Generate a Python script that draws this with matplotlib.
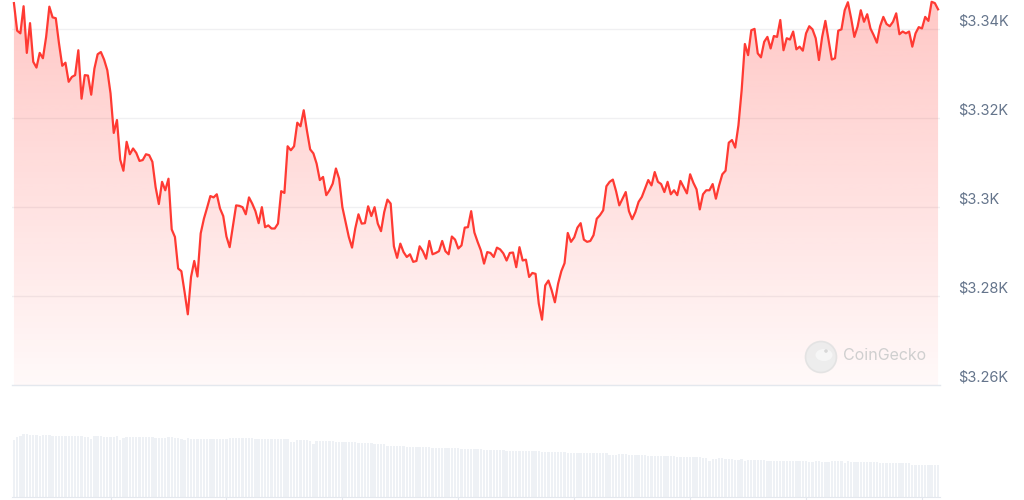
import numpy as np
import matplotlib
matplotlib.use("Agg")
import matplotlib.pyplot as plt
from matplotlib.patches import Circle, Ellipse

plt.rcParams['font.family'] = ['Inter', 'DejaVu Sans']

# price every 5 minutes over 24h (288 points)
prices = [
    3345.9, 3339.7, 3339.1, 3345.2, 3334.7, 3341.4, 3332.7, 3331.4, 3334.7, 3333.5, 3338.3, 3345.1,
    3342.7, 3342.5, 3336.8, 3331.8, 3332.5, 3328.2, 3329.3, 3329.7, 3335.3, 3324.4, 3329.7, 3329.6,
    3325.3, 3331.2, 3334.4, 3334.9, 3333.2, 3330.8, 3325.6, 3316.7, 3319.6, 3310.7, 3308.2, 3314.7,
    3311.9, 3313.2, 3312.2, 3310.4, 3310.6, 3311.9, 3311.7, 3310.2, 3304.5, 3300.7, 3305.7, 3303.8,
    3306.4, 3295.0, 3293.3, 3286.2, 3285.6, 3280.9, 3275.9, 3284.3, 3287.9, 3284.4, 3294.1, 3297.4,
    3299.9, 3302.5, 3302.2, 3302.9, 3299.7, 3298.0, 3293.4, 3291.0, 3295.7, 3300.4, 3300.3, 3300.0,
    3298.4, 3302.2, 3300.8, 3299.1, 3296.4, 3300.0, 3295.5, 3295.9, 3295.2, 3295.2, 3296.3, 3303.6,
    3303.2, 3313.7, 3312.8, 3313.7, 3319.0, 3318.2, 3321.8, 3317.2, 3313.0, 3312.1, 3309.8, 3306.1,
    3306.8, 3302.7, 3303.8, 3305.3, 3308.7, 3306.4, 3300.0, 3296.7, 3293.3, 3290.9, 3295.2, 3298.4,
    3296.3, 3296.4, 3300.2, 3298.0, 3300.0, 3296.3, 3294.6, 3298.9, 3301.7, 3300.8, 3291.2, 3288.6,
    3291.8, 3289.9, 3288.8, 3289.4, 3287.7, 3287.9, 3291.2, 3290.1, 3288.4, 3292.4, 3289.4, 3289.7,
    3290.1, 3292.4, 3290.1, 3289.4, 3293.4, 3292.7, 3290.7, 3291.4, 3295.4, 3295.5, 3299.1, 3294.3,
    3292.2, 3290.3, 3287.3, 3289.9, 3289.7, 3288.8, 3290.9, 3290.5, 3289.6, 3288.0, 3289.7, 3289.8,
    3286.5, 3291.0, 3288.0, 3288.2, 3284.3, 3285.2, 3285.0, 3278.3, 3274.7, 3282.4, 3283.5, 3281.3,
    3278.6, 3282.8, 3285.6, 3287.4, 3294.2, 3292.2, 3293.2, 3295.4, 3296.4, 3292.7, 3292.2, 3292.4,
    3293.7, 3297.4, 3298.2, 3299.3, 3304.7, 3305.7, 3306.2, 3303.6, 3300.4, 3301.9, 3303.4, 3299.1,
    3297.3, 3298.9, 3301.2, 3302.3, 3304.2, 3306.1, 3304.9, 3307.9, 3305.7, 3305.2, 3303.4, 3305.7,
    3302.9, 3303.8, 3302.7, 3305.9, 3304.5, 3303.1, 3307.4, 3305.5, 3304.0, 3299.5, 3302.9, 3303.8,
    3303.8, 3305.2, 3301.9, 3304.9, 3307.4, 3308.2, 3314.5, 3315.1, 3313.4, 3318.4, 3326.3, 3336.7,
    3334.2, 3339.8, 3340.1, 3334.6, 3333.7, 3337.2, 3338.3, 3335.7, 3338.5, 3338.3, 3342.1, 3335.3,
    3338.0, 3337.7, 3339.5, 3335.5, 3336.1, 3335.2, 3339.1, 3340.7, 3340.0, 3338.0, 3333.1, 3338.3,
    3341.9, 3337.6, 3333.2, 3333.5, 3339.7, 3340.0, 3344.3, 3346.1, 3342.5, 3338.3, 3340.6, 3344.3,
    3341.7, 3343.4, 3340.2, 3338.7, 3337.0, 3340.7, 3342.8, 3341.2, 3340.7, 3341.7, 3343.6, 3338.9,
    3339.5, 3339.1, 3339.5, 3336.1, 3339.1, 3340.5, 3340.2, 3342.8, 3341.9, 3346.2, 3345.9, 3344.5,
]

# volume per 5 minute bar (arbitrary units)
volume = [
    19.0, 19.9, 20.4, 21.0, 21.0, 20.7, 20.7, 20.7, 20.3, 20.7, 20.6, 20.7,
    20.5, 20.5, 20.5, 20.5, 20.5, 20.5, 20.5, 20.5, 20.5, 20.3, 20.0, 19.9,
    19.4, 20.2, 20.4, 20.2, 20.1, 20.1, 19.9, 19.9, 20.2, 19.1, 19.8, 20.0,
    20.0, 20.0, 20.0, 20.0, 20.0, 20.0, 20.0, 20.0, 19.7, 19.7, 19.8, 19.8,
    20.0, 20.0, 19.8, 19.7, 19.4, 18.9, 19.8, 19.4, 19.4, 19.4, 19.4, 19.4,
    19.4, 19.4, 19.4, 19.2, 19.4, 19.4, 19.4, 19.6, 19.6, 19.6, 19.6, 19.6,
    19.6, 19.6, 19.6, 19.2, 19.2, 19.2, 19.2, 19.2, 19.2, 19.2, 19.2, 19.2,
    19.2, 19.2, 18.3, 18.2, 18.9, 19.1, 18.9, 18.9, 18.7, 17.6, 18.7, 18.7,
    18.8, 18.8, 18.8, 18.8, 18.4, 18.4, 18.4, 18.4, 18.4, 18.3, 18.3, 18.1,
    18.1, 18.1, 18.0, 18.0, 17.6, 17.6, 17.6, 17.6, 17.1, 17.1, 17.1, 17.1,
    16.9, 16.9, 16.8, 16.8, 16.8, 16.7, 16.7, 16.7, 16.6, 16.6, 16.5, 16.5,
    16.4, 16.4, 16.3, 16.3, 16.3, 16.2, 16.2, 16.1, 16.1, 16.0, 16.0, 16.0,
    15.9, 15.9, 15.8, 15.8, 15.8, 15.7, 15.7, 15.6, 15.6, 15.5, 15.5, 15.5,
    15.4, 15.4, 15.4, 15.3, 15.3, 15.2, 15.2, 15.2, 15.1, 15.1, 15.0, 15.0,
    15.0, 14.9, 14.9, 14.9, 14.8, 14.8, 14.8, 14.7, 14.7, 14.6, 14.6, 14.6,
    14.6, 14.6, 14.6, 14.6, 14.6, 14.1, 14.1, 14.1, 14.4, 14.4, 14.4, 14.0,
    14.0, 14.0, 14.0, 14.0, 14.0, 13.8, 13.8, 13.8, 13.7, 13.7, 13.7, 13.7,
    13.7, 13.7, 13.3, 13.3, 13.3, 13.3, 13.3, 13.3, 13.3, 13.3, 13.0, 13.0,
    11.9, 12.6, 12.6, 12.9, 12.9, 12.6, 12.8, 12.8, 12.3, 12.3, 12.6, 12.1,
    12.3, 12.3, 12.3, 12.3, 12.3, 12.3, 12.0, 12.0, 12.0, 12.0, 12.0, 12.0,
    12.0, 12.0, 12.0, 12.0, 12.0, 11.9, 11.9, 11.7, 11.7, 11.9, 11.9, 11.7,
    11.7, 11.7, 12.0, 12.0, 12.0, 12.0, 11.2, 12.1, 11.7, 11.7, 11.6, 11.6,
    11.6, 11.6, 11.6, 11.6, 11.6, 11.2, 11.2, 11.2, 11.2, 11.2, 11.2, 11.2,
    11.2, 11.2, 11.2, 10.8, 10.8, 10.8, 10.8, 10.8, 10.8, 10.8, 10.8, 10.8,
]

y_ticks = [3260, 3280, 3300, 3320, 3340]
y_labels = ['$3.26K', '$3.28K', '$3.3K', '$3.32K', '$3.34K']
hour_marks = [30, 66, 102, 138, 174, 210, 246, 282]   # 3-hourly ticks

red = '#ff3a33'
steps = np.arange(len(prices))
ylo, yhi = 3260, 3346.6
x0, x1 = -0.6, len(prices) - 0.4

fig = plt.figure(figsize=(10.24, 5.0), dpi=100)
ax = fig.add_axes([12 / 1024, 115 / 500, 928 / 1024, 385 / 500])
axv = fig.add_axes([12 / 1024, 3 / 500, 928 / 1024, 72 / 500])

# price chart
for v in y_ticks[1:]:
    ax.axhline(v, color='#f0f0f2', lw=1.0, zorder=0)
ax.axhline(y_ticks[0], color='#e4e8ee', lw=1.0, zorder=0, clip_on=False)

poly = ax.fill_between(steps, prices, ylo, color='none', lw=0)
grad = np.zeros((256, 1, 4))
grad[..., 0] = 1.0
grad[..., 1] = 58 / 255
grad[..., 2] = 51 / 255
grad[:, 0, 3] = np.linspace(0.28, 0.03, 256)   # row 0 = top
im = ax.imshow(grad, aspect='auto', extent=[x0, x1, ylo, yhi],
               origin='upper', zorder=1)
im.set_clip_path(poly.get_paths()[0], transform=ax.transData)

ax.plot(steps, prices, color=red, lw=1.6, zorder=3, solid_joinstyle='round')
ax.set_xlim(x0, x1)
ax.set_ylim(ylo, yhi)

for v, lab in zip(y_ticks, y_labels):
    ax.annotate(lab, xy=(1, v), xycoords=('axes fraction', 'data'),
                xytext=(13, 5.5), textcoords='offset points',
                ha='left', va='center', fontsize=10.5, color='#64748b')

for s in ax.spines.values():
    s.set_visible(False)
ax.set_xticks([])
ax.set_yticks([])

# watermark
wm = fig.add_axes([0, 0, 1, 1], facecolor='none')
wm.set_xlim(0, 1024)
wm.set_ylim(500, 0)
wm.axis('off')
wm.add_patch(Circle((821, 357), 15.5, facecolor='#ececec', edgecolor='#e2e2e2', lw=1.2, alpha=0.9))
wm.add_patch(Ellipse((824, 355), 17, 12, facecolor='#f6f6f6', edgecolor='none'))
wm.add_patch(Circle((826, 351), 1.8, facecolor='#d8d8d8', edgecolor='none'))
wm.text(843, 356, 'CoinGecko', fontsize=11.5, color='#cfcfcf', va='center', ha='left')

# volume bars
axv.bar(steps, volume, width=0.72, color='#eef1f5', lw=0)
axv.set_xlim(x0, x1)
axv.set_ylim(0, 24)
for k, s in axv.spines.items():
    s.set_visible(k == 'bottom')
axv.spines['bottom'].set_color('#e4e8ee')
axv.set_yticks([])
axv.set_xticks(hour_marks)
axv.set_xticklabels([])
axv.tick_params(axis='x', length=2.5, color='#e4e8ee', direction='out')

fig.savefig('out.png', dpi=100, facecolor='white')
